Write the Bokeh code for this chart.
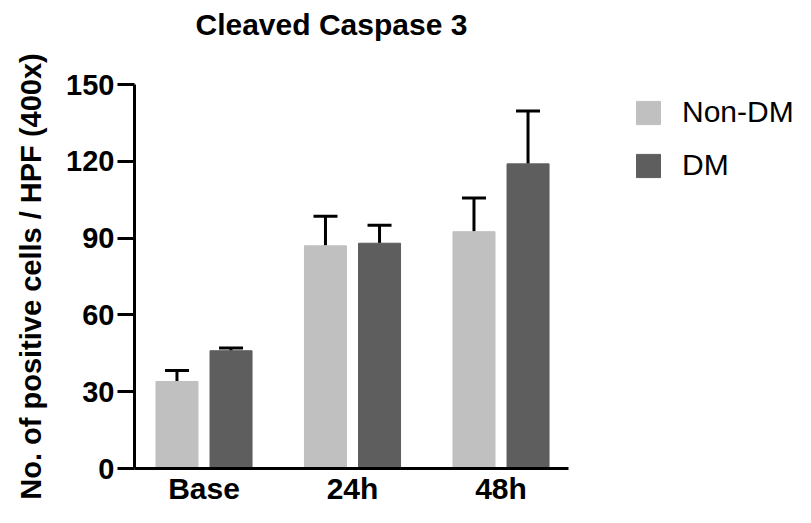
from bokeh.plotting import figure
from bokeh.models import Range1d, FixedTicker, ColumnDataSource, Whisker, TeeHead, Legend, LegendItem, Title
from bokeh.embed import file_html
from bokeh.resources import INLINE

categories = ["Base", "24h", "48h"]
non_dm = [34.0, 87.0, 92.5]
non_dm_upper = [38.3, 98.5, 105.7]
dm = [46.0, 88.0, 119.0]
dm_upper = [47.1, 95.0, 139.6]
y_ticks = [0, 30, 60, 90, 120, 150]

FONT = "Liberation Sans"
idx = list(range(len(categories)))
off = 0.182
bw = 0.283

p = figure(width=803, height=507, output_backend="svg", toolbar_location=None,
           x_range=Range1d(-0.468, 4.037), y_range=Range1d(0, 150),
           min_border_left=134, min_border_right=0, min_border_top=0, min_border_bottom=0)
p.outline_line_color = None
p.grid.visible = False
p.background_fill_color = "white"

src_n = ColumnDataSource(dict(x=[i - off for i in idx], top=non_dm, up=non_dm_upper))
src_d = ColumnDataSource(dict(x=[i + off for i in idx], top=dm, up=dm_upper))

rn = p.vbar(x="x", top="top", width=bw, source=src_n, fill_color="#c0c0c0", line_color="#c0c0c0")
rd = p.vbar(x="x", top="top", width=bw, source=src_d, fill_color="#5e5e5e", line_color="#5e5e5e")

for src in (src_n, src_d):
    w = Whisker(base="x", lower="top", upper="up", source=src, line_color="black", line_width=3,
                upper_head=TeeHead(size=24, line_width=3, line_color="black"), lower_head=None)
    p.add_layout(w)

# axes
p.xaxis.ticker = FixedTicker(ticks=idx)
p.xaxis.major_label_overrides = {i: c for i, c in zip(idx, categories)}
p.xaxis.bounds = (-0.468, 2.455)
p.xaxis.major_tick_line_color = None
p.xaxis.major_tick_out = 0
p.xaxis.major_tick_in = 0
p.xaxis.minor_tick_line_color = None
p.xaxis.minor_tick_out = 0
p.xaxis.axis_line_width = 3
p.xaxis.major_label_text_font = FONT
p.xaxis.major_label_text_font_style = "bold"
p.xaxis.major_label_text_font_size = "30px"
p.xaxis.major_label_text_color = "black"
p.xaxis.major_label_standoff = 3

p.yaxis.ticker = FixedTicker(ticks=y_ticks)
p.yaxis.minor_tick_line_color = None
p.yaxis.minor_tick_out = 0
p.yaxis.axis_line_width = 3
p.yaxis.major_tick_line_width = 3
p.yaxis.major_tick_out = 17
p.yaxis.major_tick_in = 0
p.yaxis.major_label_text_font = FONT
p.yaxis.major_label_text_font_style = "bold"
p.yaxis.major_label_text_font_size = "29px"
p.yaxis.major_label_text_color = "black"
p.yaxis.major_label_standoff = 3
p.yaxis.axis_label = "No. of positive cells / HPF (400x)"
p.yaxis.axis_label_text_font = FONT
p.yaxis.axis_label_text_font_style = "bold"
p.yaxis.axis_label_text_font_size = "29px"
p.yaxis.axis_label_text_color = "black"
p.yaxis.axis_label_standoff = 16

# real title on the outside, spacer title next to the frame
p.title.text = "Cleaved Caspase 3"
p.title.text_font = FONT
p.title.text_font_style = "bold"
p.title.text_font_size = "30px"
p.title.text_color = "black"
p.title.align = "left"
p.title.offset = 61
p.title.vertical_align = "top"
p.title.standoff = 14
p.add_layout(Title(text=" ", text_font_size="10px", standoff=22), "above")

legend = Legend(items=[LegendItem(label="Non-DM", renderers=[rn]), LegendItem(label="DM", renderers=[rd])],
                location=(499, 286), glyph_width=30, glyph_height=29, label_height=29,
                spacing=19, padding=0, margin=0, label_standoff=19,
                label_text_font=FONT, label_text_font_size="30px", label_text_color="black",
                border_line_color=None, background_fill_alpha=0)
p.add_layout(legend)

open("out.html", "w").write(file_html(p, INLINE))
